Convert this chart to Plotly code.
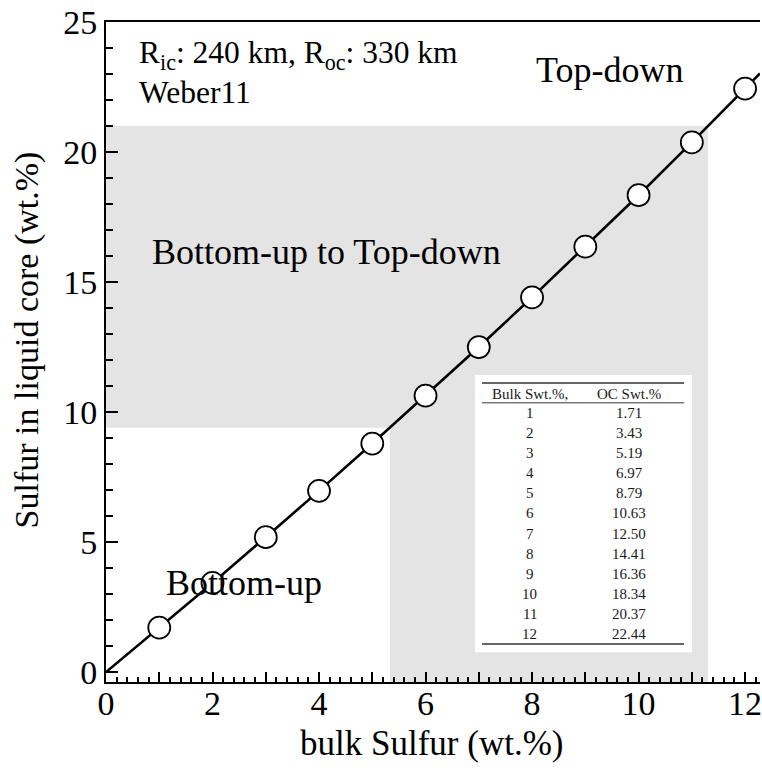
import plotly.graph_objects as go

# Bulk sulfur content vs. sulfur in the liquid outer core
bulk_s = [0, 1, 2, 3, 4, 5, 6, 7, 8, 9, 10, 11, 12]
oc_s = [0, 1.71, 3.43, 5.19, 6.97, 8.79, 10.63, 12.50, 14.41, 16.36, 18.34, 20.37, 22.44]

# Crystallisation regime boundaries (bulk S, liquid-core S)
bottom_up_limit = (5.33, 9.4)
top_down_limit = (11.3, 21.0)

x_range = [0, 12.28]
y_range = [-0.38, 25]

FONT = "Liberation Serif"

# extend the last segment of the curve to the right edge of the axes
slope = (oc_s[-1] - oc_s[-2]) / (bulk_s[-1] - bulk_s[-2])
line_x = bulk_s + [x_range[1]]
line_y = oc_s + [oc_s[-1] + slope * (x_range[1] - bulk_s[-1])]

fig = go.Figure()

fig.add_trace(go.Scatter(
    x=line_x, y=line_y, mode="lines",
    line=dict(color="black", width=2.6), hoverinfo="skip", showlegend=False,
))
fig.add_trace(go.Scatter(
    x=bulk_s[1:], y=oc_s[1:], mode="markers",
    marker=dict(size=22, color="white", line=dict(color="black", width=1.8)),
    showlegend=False,
))

# shaded transition regime
bx, by = bottom_up_limit
tx, ty = top_down_limit
y0 = y_range[0]
fig.add_shape(
    type="path", layer="below", line=dict(width=0), fillcolor="#e4e4e4",
    path=f"M 0 {by} L {bx} {by} L {bx} {y0} L {tx} {y0} L {tx} {ty} L 0 {ty} Z",
)

# inset table box
tb_x0, tb_x1, tb_y0, tb_y1 = 0.564, 0.896, 0.045, 0.465
fig.add_shape(type="rect", xref="paper", yref="paper",
              x0=tb_x0, x1=tb_x1, y0=tb_y0, y1=tb_y1,
              fillcolor="white", line=dict(width=0), layer="above")

rule_x0, rule_x1 = 0.575, 0.884
for yy, w in [(0.453, 1.6), (0.423, 1.0), (0.0576, 1.6)]:
    fig.add_shape(type="line", xref="paper", yref="paper",
                  x0=rule_x0, x1=rule_x1, y0=yy, y1=yy,
                  line=dict(color="#333333", width=w), layer="above")

col1, col2 = 0.648, 0.80
tfont = dict(family=FONT, size=15, color="#1a1a1a")
annotations = [
    dict(x=col1, y=0.436, text="Bulk Swt.%,"),
    dict(x=col2, y=0.436, text="OC Swt.%"),
]
row_top, row_step = 0.408, 0.0305
for i, (b, o) in enumerate(zip(bulk_s[1:], oc_s[1:])):
    yy = row_top - i * row_step
    annotations.append(dict(x=col1, y=yy, text=f"{b}"))
    annotations.append(dict(x=col2, y=yy, text=f"{o:.2f}"))
for a in annotations:
    a.update(xref="paper", yref="paper", showarrow=False, font=tfont,
             xanchor="center", yanchor="middle")

big = dict(family=FONT, size=36, color="black")
small = dict(family=FONT, size=31.5, color="black")
annotations += [
    dict(x=0.048, y=0.95, xref="paper", yref="paper", showarrow=False,
         xanchor="left", yanchor="middle", font=small,
         text="R<sub>ic</sub>: 240 km, R<sub>oc</sub>: 330 km"),
    dict(x=0.048, y=0.893, xref="paper", yref="paper", showarrow=False,
         xanchor="left", yanchor="middle", font=small, text="Weber11"),
    dict(x=0.655, y=0.927, xref="paper", yref="paper", showarrow=False,
         xanchor="left", yanchor="middle", font=big, text="Top-down"),
    dict(x=0.068, y=0.651, xref="paper", yref="paper", showarrow=False,
         xanchor="left", yanchor="middle", font=big, text="Bottom-up to Top-down"),
    dict(x=0.088, y=0.15, xref="paper", yref="paper", showarrow=False,
         xanchor="left", yanchor="middle", font=big, text="Bottom-up"),
    # axis titles
    dict(x=0.497, y=-0.093, xref="paper", yref="paper", showarrow=False,
         xanchor="center", yanchor="middle", font=dict(family=FONT, size=35, color="black"),
         text="bulk Sulfur (wt.%)"),
    dict(x=-0.1204, y=0.518, xref="paper", yref="paper", showarrow=False,
         xanchor="center", yanchor="middle", textangle=-90,
         font=dict(family=FONT, size=34, color="black"),
         text="Sulfur in liquid core (wt.%)"),
]

fig.update_layout(
    width=762, height=770,
    margin=dict(l=106, r=0, t=22, b=88),
    paper_bgcolor="white", plot_bgcolor="white",
    font=dict(family=FONT, color="black"),
    annotations=annotations,
    showlegend=False,
)

fig.update_xaxes(
    range=x_range, showgrid=False, zeroline=False,
    showline=True, linecolor="black", linewidth=2, mirror=True,
    ticks="inside", ticklen=10, tickwidth=1.8, tickcolor="black",
    tickmode="array", tickvals=list(range(0, 13)),
    ticktext=[str(v) if v % 2 == 0 else "" for v in range(0, 13)],
    minor=dict(dtick=0.2, ticks="inside", ticklen=5, tickwidth=1.5, tickcolor="black", showgrid=False),
    tickfont=dict(family=FONT, size=34), ticklabelstandoff=-10, ticklabeloverflow="allow",
)
fig.update_yaxes(
    range=y_range, showgrid=False, zeroline=False,
    showline=True, linecolor="black", linewidth=2, mirror=False,
    ticks="inside", ticklen=12, tickwidth=1.8, tickcolor="black",
    tickmode="array", tickvals=[0, 5, 10, 15, 20, 25],
    minor=dict(dtick=1, ticks="inside", ticklen=7, tickwidth=1.5, tickcolor="black", showgrid=False),
    tickfont=dict(family=FONT, size=34), ticklabeloverflow="allow",
)

fig.write_html("out.html")
